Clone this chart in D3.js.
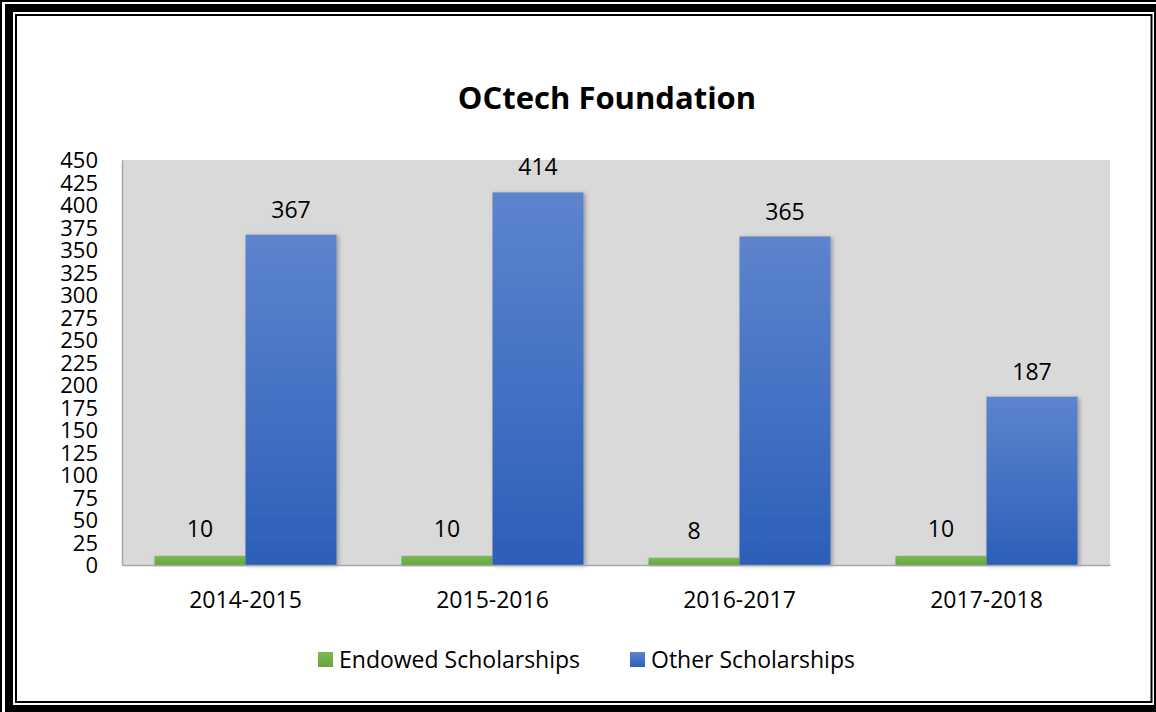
<!DOCTYPE html>
<html><head><meta charset="utf-8">
<script src="https://cdn.jsdelivr.net/npm/d3@7"></script>
<style>body{margin:0;background:#fff}svg{display:block;font-family:"Open Sans",sans-serif}</style>
</head><body>
<svg id="c" width="1156" height="712"></svg>
<script>
const categories = ["2014-2015","2015-2016","2016-2017","2017-2018"];
const endowed = [10,10,8,10];
const other = [367,414,365,187];
const seriesNames = ["Endowed Scholarships","Other Scholarships"];
const yTicks = d3.range(0,451,25);

const FF = "'Open Sans',sans-serif";
const svg = d3.select("#c");
const defs = svg.append("defs");
const gb = defs.append("linearGradient").attr("id","gBlue").attr("x1",0).attr("y1",0).attr("x2",0).attr("y2",1);
gb.append("stop").attr("offset","0%").attr("stop-color","#5d84cd");
gb.append("stop").attr("offset","100%").attr("stop-color","#2c5fb9");
const gg = defs.append("linearGradient").attr("id","gGreen").attr("x1",0).attr("y1",0).attr("x2",0).attr("y2",1);
gg.append("stop").attr("offset","0%").attr("stop-color","#7cb955");
gg.append("stop").attr("offset","100%").attr("stop-color","#63a83d");
const f = defs.append("filter").attr("id","sh").attr("x","-10%").attr("y","-10%").attr("width","130%").attr("height","130%");
f.append("feDropShadow").attr("dx",2).attr("dy",1).attr("stdDeviation",2).attr("flood-color","#000").attr("flood-opacity",0.3);

// frame
svg.append("rect").attr("x",1).attr("y",1).attr("width",1170).attr("height",730).attr("fill","none").attr("stroke","#000").attr("stroke-width",2);
svg.append("rect").attr("x",9).attr("y",8).attr("width",1149).attr("height",701).attr("fill","none").attr("stroke","#000").attr("stroke-width",8);
svg.append("rect").attr("x",16).attr("y",15).attr("width",1135.5).attr("height",687).attr("fill","none").attr("stroke","#000").attr("stroke-width",2);

const L=122, R=1110, T=160, B=565;
const x = d3.scaleBand().domain(categories).range([L,R]).paddingInner(0).paddingOuter(0);
const y = d3.scaleLinear().domain([0,450]).range([B,T]);
const bw = 91;

svg.append("rect").attr("x",L).attr("y",T).attr("width",R-L).attr("height",B-T).attr("fill","#d9d9d9");

svg.append("text").attr("x",607).attr("y",109).attr("text-anchor","middle")
  .attr("font-size",31).attr("font-weight","bold").attr("fill","#000").text("OCtech Foundation");

// y axis
const ya = svg.append("g").attr("transform",`translate(${L},0)`).call(d3.axisLeft(y).tickValues(yTicks).tickSize(0).tickPadding(24));
ya.select(".domain").attr("stroke","#a6a6a6").attr("stroke-width",1.5);
ya.selectAll("text").attr("font-size",22).attr("fill","#000").attr("font-family",FF).attr("dy","0.36em");

const g = svg.append("g");
categories.forEach((c,i)=>{
  const cx = x(c)+x.bandwidth()/2;
  g.append("rect").attr("x",cx-bw).attr("y",y(endowed[i])).attr("width",bw).attr("height",B-y(endowed[i]))
    .attr("fill","url(#gGreen)").attr("filter","url(#sh)");
  g.append("rect").attr("x",cx).attr("y",y(other[i])).attr("width",bw).attr("height",B-y(other[i]))
    .attr("fill","url(#gBlue)").attr("filter","url(#sh)");
  g.append("text").attr("x",cx-bw/2).attr("y",y(endowed[i])-19).attr("text-anchor","middle").attr("font-size",23).text(endowed[i]);
  g.append("text").attr("x",cx+bw/2).attr("y",y(other[i])-17).attr("text-anchor","middle").attr("font-size",23).text(other[i]);
});

// x axis
const xa = svg.append("g").attr("transform",`translate(0,${B})`).call(d3.axisBottom(x).tickSize(0).tickPadding(27));
xa.select(".domain").attr("stroke","#a6a6a6").attr("stroke-width",1.5);
xa.selectAll("text").attr("font-size",23).attr("fill","#000").attr("font-family",FF);

// legend
const leg = [{n:seriesNames[0],c:"url(#gGreen)",x:318},{n:seriesNames[1],c:"url(#gBlue)",x:630}];
leg.forEach(d=>{
  svg.append("rect").attr("x",d.x).attr("y",652).attr("width",15).attr("height",15).attr("fill",d.c);
  svg.append("text").attr("x",d.x+21).attr("y",668).attr("font-size",23).text(d.n);
});
</script>
</body></html>
